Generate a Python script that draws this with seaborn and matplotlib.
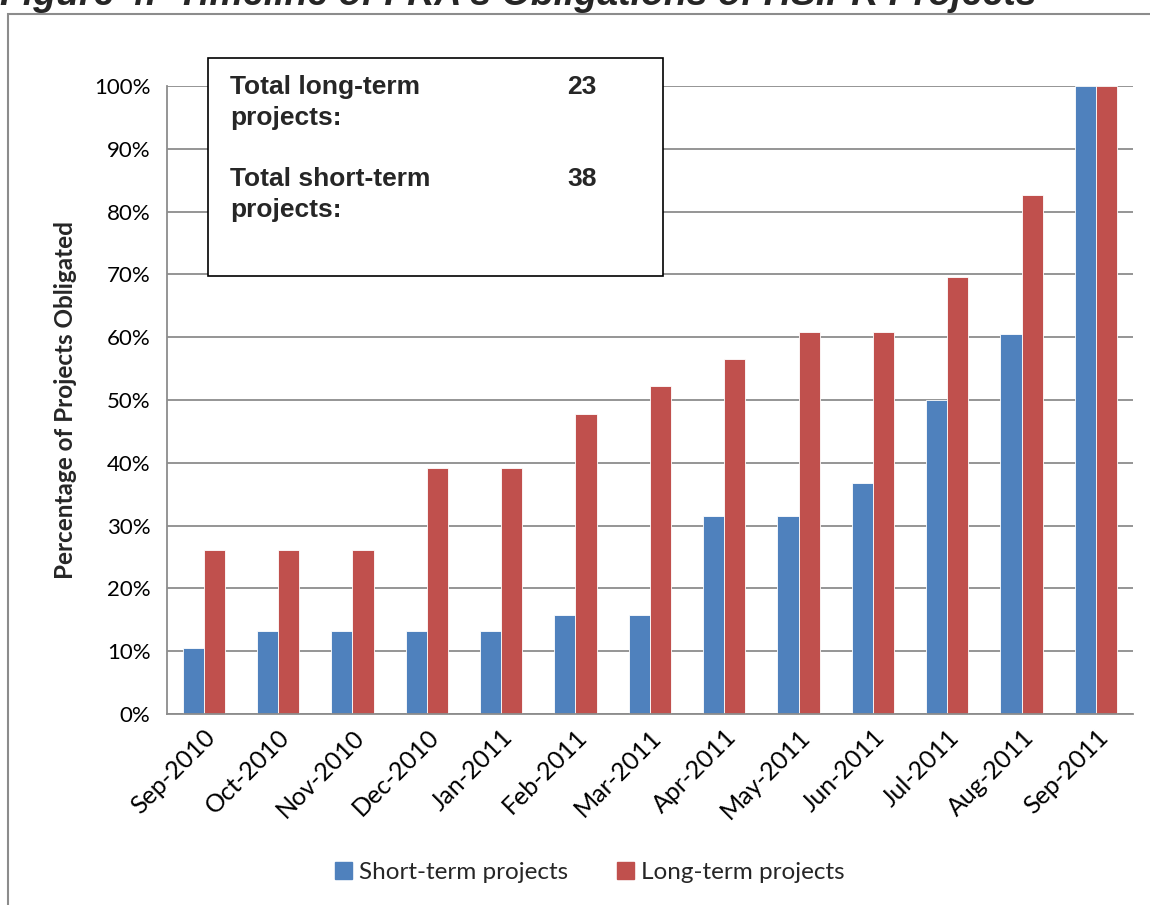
import matplotlib
matplotlib.use("Agg")
import matplotlib.pyplot as plt
import matplotlib.patches as mpatches
import seaborn as sns
import pandas as pd
from matplotlib.ticker import PercentFormatter

# Daten (Anteil der verpflichteten Projekte)
months = ["Sep-2010", "Oct-2010", "Nov-2010", "Dec-2010", "Jan-2011", "Feb-2011",
          "Mar-2011", "Apr-2011", "May-2011", "Jun-2011", "Jul-2011", "Aug-2011",
          "Sep-2011"]
short_term = [0.105, 0.132, 0.132, 0.132, 0.132, 0.158, 0.158, 0.316, 0.316,
              0.368, 0.500, 0.605, 1.000]
long_term = [0.261, 0.261, 0.261, 0.391, 0.391, 0.478, 0.522, 0.565, 0.609,
             0.609, 0.696, 0.826, 1.000]
series_names = ["Short-term projects", "Long-term projects"]
total_long = 23
total_short = 38

df = pd.DataFrame({
    "month": months * 2,
    "value": short_term + long_term,
    "series": [series_names[0]] * len(months) + [series_names[1]] * len(months),
})

sns.set_style("white")
plt.rcParams["font.family"] = ["Lato", "DejaVu Sans"]

blue = "#4F81BD"
red = "#C0504D"
grid_col = "#8C8C8C"

fig = plt.figure(figsize=(11.5, 9.05), dpi=100)
ax = fig.add_axes([0.1448, 0.211, 0.8405, 0.694])

sns.barplot(data=df, x="month", y="value", hue="series", order=months,
            hue_order=series_names, palette=[blue, red], width=0.57,
            saturation=1, edgecolor="white", linewidth=0.6, legend=False, ax=ax)

ax.set_ylim(0, 1)
ax.set_xlim(-0.5, len(months) - 0.5)
ax.set_yticks([i / 10 for i in range(11)])
ax.yaxis.set_major_formatter(PercentFormatter(1.0, decimals=0))
ax.yaxis.grid(True, color=grid_col, linewidth=1.3)
ax.set_axisbelow(True)
for s in ["top", "right"]:
    ax.spines[s].set_visible(False)
for s in ["left", "bottom"]:
    ax.spines[s].set_color(grid_col)
    ax.spines[s].set_linewidth(1.3)

ax.tick_params(axis="y", labelsize=16, colors="black", pad=8)
ax.tick_params(axis="x", labelsize=18, colors="black", length=0, pad=8)
plt.setp(ax.get_xticklabels(), rotation=45, ha="right", rotation_mode="anchor")
ax.set_xlabel("")
ax.set_ylabel("Percentage of Projects Obligated", fontsize=17.5, fontweight="bold",
              labelpad=12)

# Legende unten
handles = [mpatches.Patch(color=blue, label=series_names[0]),
           mpatches.Patch(color=red, label=series_names[1])]
fig.legend(handles=handles, loc="center", bbox_to_anchor=(0.513, 0.036), ncol=2,
           frameon=False, fontsize=17.5, handlelength=0.7, handleheight=0.7,
           handletextpad=0.3, columnspacing=2.0)

# Infobox
box = mpatches.Rectangle((208 / 1150, 1 - 276 / 905), 455 / 1150, 218 / 905,
                         transform=fig.transFigure, facecolor="white",
                         edgecolor="black", linewidth=1.2, zorder=5)
fig.patches.append(box)
box_font = dict(family=["Liberation Sans", "DejaVu Sans"], fontweight="bold",
                fontsize=19, va="baseline", zorder=6)
fig.text(230 / 1150, 1 - 94 / 905, "Total long-term", **box_font)
fig.text(230 / 1150, 1 - 125 / 905, "projects:", **box_font)
fig.text(567 / 1150, 1 - 94 / 905, str(total_long), **box_font)
fig.text(230 / 1150, 1 - 186 / 905, "Total short-term", **box_font)
fig.text(230 / 1150, 1 - 217 / 905, "projects:", **box_font)
fig.text(567 / 1150, 1 - 186 / 905, str(total_short), **box_font)

# Rahmen und abgeschnittener Titel
frame = mpatches.Rectangle((8 / 1150, -0.01), 1.02, 1 - 14 / 905 + 0.01,
                           transform=fig.transFigure, facecolor="none",
                           edgecolor="#8C8C8C", linewidth=1.5)
fig.patches.append(frame)
fig.text(0.0, 1 - 5 / 905, "Figure 4.  Timeline of FRA's Obligations of HSIPR Projects",
         family=["Liberation Sans", "DejaVu Sans"], fontweight="bold",
         fontstyle="italic", fontsize=27, va="baseline", ha="left")

fig.savefig("out.png", dpi=100)
plt.close(fig)
